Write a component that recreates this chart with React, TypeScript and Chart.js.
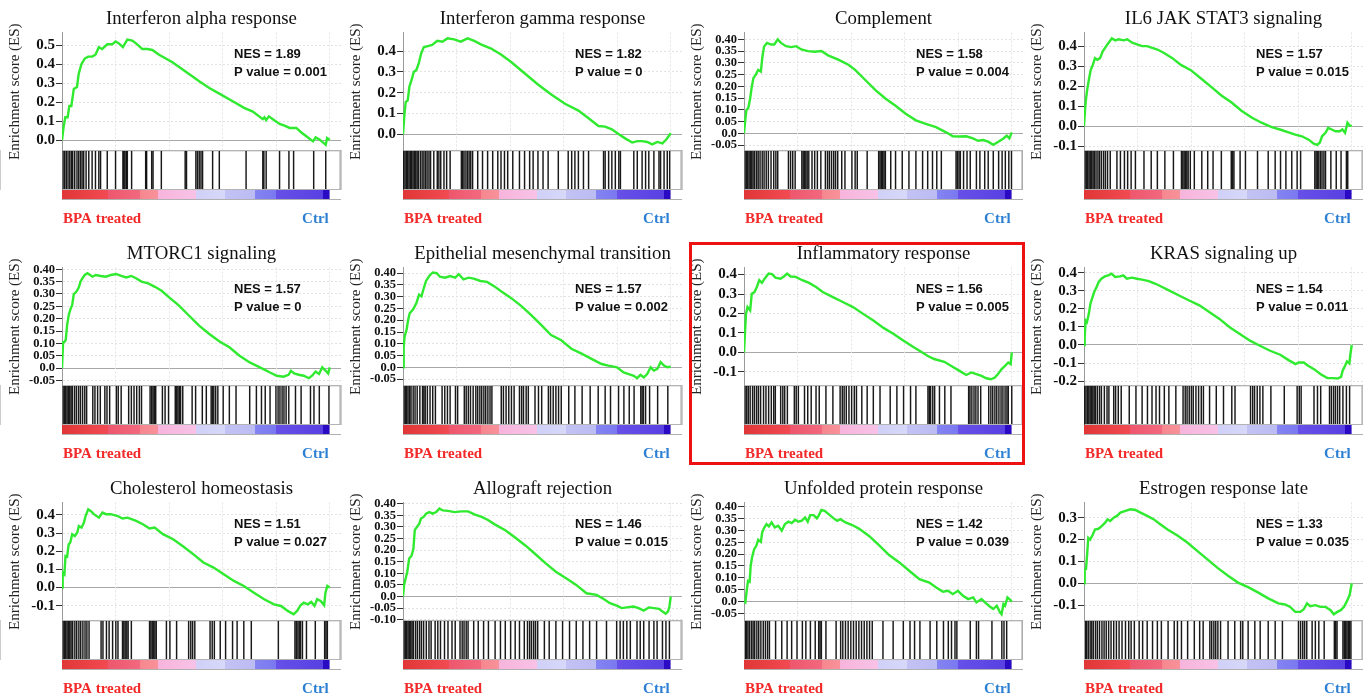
import React, { useEffect, useRef } from 'react';
import { Chart, registerables } from 'chart.js';

Chart.register(...registerables);

// ---------------- data ----------------
const TITLES = [
  'Interferon alpha response', 'Interferon gamma response', 'Complement', 'IL6 JAK STAT3 signaling',
  'MTORC1 signaling', 'Epithelial mesenchymal transition', 'Inflammatory response', 'KRAS signaling up',
  'Cholesterol homeostasis', 'Allograft rejection', 'Unfolded protein response', 'Estrogen response late',
];
const NES_VALUES = ['1.89', '1.82', '1.58', '1.57', '1.57', '1.57', '1.56', '1.54', '1.51', '1.46', '1.42', '1.33'];
const P_VALUES = ['0.001', '0', '0.004', '0.015', '0', '0.002', '0.005', '0.011', '0.027', '0.015', '0.039', '0.035'];

const TICKS_05 = ['0.5', '0.4', '0.3', '0.2', '0.1', '0.0'];
const TICKS_04 = ['0.4', '0.3', '0.2', '0.1', '0.0'];
const TICKS_04_N1 = ['0.4', '0.3', '0.2', '0.1', '0.0', '-0.1'];
const TICKS_04_N2 = ['0.4', '0.3', '0.2', '0.1', '0.0', '-0.1', '-0.2'];
const TICKS_03_N1 = ['0.3', '0.2', '0.1', '0.0', '-0.1'];
const TICKS_040 = ['0.40', '0.35', '0.30', '0.25', '0.20', '0.15', '0.10', '0.05', '0.0', '-0.05'];
const TICKS_040_N10 = ['0.40', '0.35', '0.30', '0.25', '0.20', '0.15', '0.10', '0.05', '0.0', '-0.05', '-0.10'];

const Y_TICK_LABELS = [
  TICKS_05, TICKS_04, TICKS_040, TICKS_04_N1,
  TICKS_040, TICKS_040, TICKS_04_N1, TICKS_04_N2,
  TICKS_04_N1, TICKS_040_N10, TICKS_040, TICKS_03_N1,
];
const Y_RANGES = [
  [-0.057, 0.567], [-0.08, 0.49], [-0.075, 0.429], [-0.124, 0.468],
  [-0.072, 0.407], [-0.079, 0.424], [-0.172, 0.436], [-0.227, 0.43],
  [-0.183, 0.468], [-0.105, 0.405], [-0.082, 0.418], [-0.172, 0.369],
];

// running enrichment score: [rank %, ES]
const ES_1 = [[0,0],[0.6,0.07],[1.25,0.12],[2.1,0.12],[2.75,0.18],[3.5,0.18],[4.4,0.27],[5.6,0.28],[6.25,0.35],[7.25,0.40],[8.5,0.43],[9.75,0.44],[11.25,0.44],[12.5,0.45],[13.75,0.49],[15,0.48],[16.9,0.505],[18.75,0.505],[20,0.52],[21.25,0.51],[22.75,0.49],[24.4,0.53],[26.25,0.525],[28.1,0.505],[30,0.48],[31.9,0.48],[33.75,0.475],[36.25,0.45],[41.25,0.41],[46.25,0.36],[51.25,0.31],[55,0.275],[58.75,0.245],[63.75,0.205],[68,0.17],[71.25,0.15],[75,0.11],[75.6,0.12],[76.25,0.105],[77.25,0.125],[78.75,0.11],[81.25,0.085],[83.1,0.076],[85,0.064],[87.5,0.064],[89.4,0.04],[91.25,0.02],[93.75,-0.007],[94.75,0.014],[96.25,0.002],[98.5,-0.025],[99,0.01],[100,0]];
const ES_2 = [[0,0],[0.5,0.09],[1,0.155],[1.76,0.163],[2.4,0.23],[3.4,0.27],[4,0.3],[5,0.31],[5.9,0.343],[6.8,0.39],[7.8,0.42],[9.3,0.425],[10.9,0.43],[12.8,0.45],[14.7,0.446],[16.6,0.462],[19.1,0.457],[21.6,0.446],[24.1,0.462],[26.6,0.45],[29.1,0.433],[32.9,0.413],[36.6,0.384],[40.4,0.348],[45.4,0.294],[50.4,0.24],[55.5,0.19],[60.5,0.147],[65.5,0.114],[69.3,0.077],[73,0.04],[75.5,0.037],[78,0.024],[80.6,0],[83.1,-0.021],[85.6,-0.04],[87.5,-0.033],[89.3,-0.033],[91.2,-0.037],[93.1,-0.049],[95,-0.037],[96.9,-0.044],[98.4,-0.024],[100,0.005]];
const ES_3 = [[0,0],[0.38,0.047],[0.88,0.098],[1.6,0.108],[2.3,0.148],[2.8,0.19],[3.5,0.235],[4.4,0.25],[5.3,0.27],[6.3,0.263],[6.9,0.328],[7.5,0.37],[8.6,0.385],[10.1,0.378],[11.3,0.378],[12.6,0.4],[13.8,0.385],[15.7,0.371],[17.6,0.367],[19.5,0.371],[21.4,0.357],[23.9,0.35],[26.4,0.347],[28.9,0.35],[31.4,0.332],[35.2,0.314],[39,0.292],[41.5,0.27],[45.3,0.227],[49.1,0.184],[52.8,0.148],[56.6,0.117],[60.4,0.083],[64.2,0.055],[67.9,0.04],[71.7,0.026],[75.5,0.004],[78,-0.013],[80.5,-0.014],[83,-0.013],[85.5,-0.022],[87.4,-0.032],[89.3,-0.029],[91.2,-0.036],[93.1,-0.049],[95,-0.036],[96.9,-0.022],[98.1,-0.01],[99.1,-0.022],[100,0.004]];
const ES_4 = [[0,0],[0.4,0.085],[0.75,0.136],[1.25,0.187],[1.9,0.238],[2.5,0.28],[3.3,0.306],[4.1,0.34],[5,0.332],[6,0.34],[7,0.374],[8.3,0.4],[9.2,0.417],[10.4,0.439],[11.7,0.429],[12.9,0.434],[14.8,0.429],[16.1,0.434],[18,0.417],[19.8,0.409],[21.7,0.4],[23.6,0.4],[25.5,0.391],[27.4,0.383],[29.9,0.366],[33,0.34],[36.2,0.306],[39.9,0.28],[43.7,0.238],[47.5,0.196],[51.3,0.153],[55,0.119],[58.8,0.077],[62.6,0.043],[66.3,0.017],[70.1,-0.005],[73.2,-0.017],[76.4,-0.031],[78.9,-0.043],[81.4,-0.051],[83.9,-0.068],[85.8,-0.088],[87.1,-0.094],[88.1,-0.082],[88.9,-0.051],[90.2,-0.034],[91.2,-0.009],[92.5,-0.017],[94,-0.026],[95.5,-0.026],[96.5,-0.017],[97.5,-0.034],[98.4,0.017],[99.2,0.003],[100,0]];
const ES_5 = [[0,0],[0.4,0.105],[0.9,0.105],[1.4,0.114],[1.9,0.173],[2.5,0.214],[3.2,0.24],[3.8,0.255],[4.4,0.3],[5.4,0.31],[6.3,0.327],[6.9,0.35],[7.6,0.363],[8.5,0.377],[9.5,0.384],[10.5,0.377],[11.4,0.37],[12.6,0.377],[14.5,0.373],[16.4,0.37],[18.3,0.377],[20.2,0.381],[22.1,0.373],[24,0.367],[25.9,0.373],[27.8,0.363],[29.7,0.35],[32.2,0.343],[34.7,0.329],[37.2,0.313],[39.8,0.288],[43.6,0.254],[47.3,0.214],[51.1,0.173],[54.9,0.139],[58.7,0.109],[62.5,0.084],[66.3,0.05],[70.1,0.023],[73.9,0.003],[77.7,-0.018],[80.2,-0.031],[82.7,-0.035],[84.6,-0.027],[85.5,-0.011],[86.7,-0.022],[88.4,-0.027],[90.3,-0.031],[92.2,-0.041],[93.4,-0.031],[94.7,-0.014],[96,-0.024],[97.2,0.003],[98.5,-0.011],[99.4,-0.022],[100,0.003]];
const ES_6 = [[0,0],[0.25,0.086],[0.6,0.13],[1.3,0.158],[1.9,0.2],[2.5,0.23],[3.8,0.247],[5,0.273],[6,0.309],[6.9,0.302],[7.8,0.338],[8.6,0.367],[9.8,0.388],[11.1,0.403],[12.6,0.4],[13.8,0.385],[15.7,0.381],[17.6,0.388],[19.5,0.381],[20.8,0.396],[22.6,0.374],[24.5,0.381],[26.4,0.377],[28.9,0.367],[31.4,0.363],[34,0.345],[36.5,0.324],[40.3,0.295],[44,0.262],[47.8,0.223],[51.6,0.18],[55.3,0.137],[59.1,0.115],[62.9,0.079],[66.7,0.058],[70.4,0.036],[74.2,0.014],[76.7,0.007],[79.9,0],[82.4,-0.022],[84.3,-0.029],[86.2,-0.036],[87.4,-0.046],[88.7,-0.032],[89.9,-0.043],[91.2,-0.029],[92.5,0],[93.7,-0.014],[95,-0.007],[96.2,0.022],[97.5,0.007],[98.7,0],[100,0.003]];
const ES_7 = [[0,0],[0.4,0.112],[0.75,0.198],[1.3,0.233],[2.3,0.216],[2.9,0.302],[3.9,0.31],[4.8,0.336],[5.7,0.371],[6.7,0.357],[7.7,0.379],[9.2,0.405],[10.5,0.402],[11.7,0.384],[13.6,0.379],[14.9,0.39],[16.1,0.405],[17.4,0.39],[19.3,0.388],[21.8,0.371],[24.3,0.357],[26.9,0.336],[29.4,0.31],[33.2,0.284],[36.9,0.259],[40.7,0.233],[44.5,0.198],[48.3,0.164],[52.1,0.126],[55.9,0.095],[59.6,0.06],[63.4,0.026],[66,0.005],[68.5,-0.017],[71,-0.034],[74.8,-0.048],[77.9,-0.074],[80.5,-0.095],[83,-0.116],[84.9,-0.103],[86.8,-0.112],[88.7,-0.121],[90.5,-0.133],[92.2,-0.138],[93.7,-0.129],[95,-0.109],[96.2,-0.086],[97.5,-0.069],[98.7,-0.052],[99.6,-0.06],[100,0]];
const ES_8 = [[0,0],[0.25,0.043],[0.6,0.136],[1.1,0.127],[1.8,0.173],[2.4,0.229],[3,0.257],[3.8,0.294],[4.7,0.322],[5.5,0.35],[6.5,0.368],[7.8,0.381],[9.1,0.387],[10.3,0.396],[11.6,0.378],[13.5,0.381],[14.7,0.387],[16,0.368],[17.9,0.374],[19.8,0.368],[21.7,0.363],[24.2,0.355],[26.7,0.34],[29.2,0.322],[31.7,0.303],[35.5,0.275],[39.3,0.247],[43.1,0.22],[46.9,0.182],[50.6,0.145],[54.4,0.099],[58.2,0.061],[62,0.024],[65.7,-0.004],[69.5,-0.032],[73.3,-0.054],[76.4,-0.084],[79,-0.106],[80.2,-0.097],[82.1,-0.097],[83.4,-0.112],[85.9,-0.134],[88.4,-0.162],[90.9,-0.184],[92.8,-0.184],[94.7,-0.186],[96,-0.177],[96.6,-0.143],[97.5,-0.115],[98.2,-0.091],[99.1,-0.102],[99.5,-0.05],[100,0]];
const ES_9 = [[0,0],[0.25,0.083],[0.9,0.073],[1.3,0.174],[1.9,0.17],[2.5,0.238],[3.1,0.248],[3.8,0.294],[4.8,0.284],[5.7,0.303],[6.3,0.339],[7.3,0.33],[8.2,0.358],[8.8,0.394],[9.8,0.431],[10.7,0.422],[11.9,0.404],[13.8,0.385],[15.1,0.413],[16.4,0.404],[18.2,0.404],[20.8,0.394],[22.6,0.38],[24.5,0.385],[27.7,0.367],[30.2,0.349],[32.7,0.325],[34.6,0.33],[37.7,0.294],[41.5,0.266],[45.3,0.226],[49.1,0.183],[52.8,0.138],[56.6,0.11],[60.4,0.073],[64.2,0.037],[67.9,0.009],[71.7,-0.028],[75.5,-0.064],[79.2,-0.092],[81.8,-0.101],[84.3,-0.128],[86.5,-0.147],[87.8,-0.128],[89.1,-0.097],[90.3,-0.083],[91.8,-0.092],[93.1,-0.079],[94.3,-0.101],[95.3,-0.064],[96.6,-0.073],[97.9,-0.097],[98.4,-0.028],[99.1,0.009],[100,0]];
const ES_10 = [[0,0],[0.4,0.05],[1,0.079],[1.6,0.107],[2.3,0.164],[3.2,0.176],[3.9,0.207],[4.4,0.286],[5.2,0.3],[6.1,0.314],[6.7,0.336],[7.7,0.343],[8.6,0.357],[9.8,0.364],[11.1,0.357],[12.4,0.364],[13.6,0.379],[14.9,0.371],[16.8,0.369],[19.3,0.364],[21.8,0.367],[24.3,0.367],[26.9,0.353],[29.4,0.343],[31.9,0.329],[34.4,0.31],[38.2,0.286],[42,0.253],[45.8,0.219],[49.6,0.181],[53.3,0.143],[57.1,0.107],[60.9,0.079],[64.7,0.05],[68.5,0.014],[72.3,0.007],[74.8,-0.01],[77.3,-0.029],[79.8,-0.039],[81.7,-0.05],[83.6,-0.047],[86.1,-0.043],[88,-0.05],[89.9,-0.061],[91.8,-0.047],[93.7,-0.05],[95.6,-0.053],[96.8,-0.064],[98.1,-0.074],[99,-0.064],[99.5,-0.043],[100,0]];
const ES_11 = [[0,0],[0.5,-0.004],[1,0.045],[1.5,0.087],[2.1,0.083],[2.5,0.151],[3,0.186],[3.8,0.221],[4.6,0.235],[5.3,0.261],[6.3,0.252],[6.8,0.292],[7.5,0.31],[8.4,0.327],[9.3,0.317],[10.3,0.334],[11.5,0.313],[12.8,0.32],[14.1,0.299],[15.3,0.327],[16.6,0.337],[17.8,0.331],[19.1,0.345],[20.3,0.337],[21.6,0.341],[22.8,0.355],[23.8,0.337],[24.7,0.365],[26,0.365],[27.2,0.351],[27.9,0.363],[28.9,0.387],[30.1,0.383],[31.6,0.369],[33.5,0.351],[34.8,0.341],[36,0.348],[37.9,0.334],[40.4,0.323],[42.9,0.308],[46.7,0.277],[50.4,0.238],[54.2,0.196],[58,0.165],[61.7,0.13],[65.5,0.094],[69.2,0.08],[71.8,0.059],[74.3,0.041],[76.2,0.045],[78,0.031],[79.9,0.045],[81.8,0.024],[83.7,0.01],[85.6,0.017],[86.8,-0.004],[88.7,0.01],[90,-0.004],[91.8,-0.021],[93.1,-0.032],[94.4,-0.018],[95.6,-0.046],[96.2,-0.054],[96.9,-0.011],[97.5,-0.018],[98.4,0.017],[99.4,0.007],[100,-0.001]];
const ES_12 = [[0,0],[0.25,0.062],[0.75,0.065],[1.25,0.146],[1.6,0.208],[2.3,0.2],[3.3,0.223],[4.1,0.246],[5.4,0.249],[6.7,0.262],[7.9,0.277],[8.8,0.292],[9.8,0.285],[11.1,0.3],[12.3,0.308],[13.6,0.323],[15.5,0.331],[17.3,0.338],[19.2,0.335],[21.1,0.323],[23.6,0.308],[26.1,0.292],[28.6,0.269],[31.2,0.246],[34.9,0.218],[38.7,0.185],[42.5,0.146],[46.2,0.108],[50,0.069],[53.8,0.034],[57.5,0.003],[61.3,-0.018],[65.1,-0.043],[68.8,-0.069],[72.6,-0.092],[75.1,-0.097],[77,-0.108],[78.9,-0.131],[80.8,-0.131],[82,-0.12],[83.3,-0.092],[84.5,-0.105],[86.4,-0.1],[88.3,-0.108],[90.2,-0.108],[92.1,-0.123],[93.3,-0.142],[94.6,-0.131],[95.9,-0.123],[97.1,-0.108],[98.4,-0.077],[99.2,-0.054],[100,0]];

// gene-set hit positions (rank %)
const HITS_1 = [0.4,1,1.6,2.25,2.9,3.5,4,4.75,5.6,6.25,6.9,7.5,8.1,9,10,11.25,12.5,13.75,14.4,16.9,20,22.75,23.1,23.5,24,24.4,26,31.25,31.6,33.5,34,37.1,46,46.5,50,50.6,51.25,51.9,52.5,56.25,58.75,68.75,75,75.4,76.25,81.25,84.75,86.5,94,98.5];
const HITS_2 = [0.25,0.75,1.25,1.76,2.26,2.76,3.26,3.76,4.27,4.77,5.27,5.77,6.5,7.15,7.8,8.4,9,9.7,10.3,11.5,12.8,13.4,14.1,15.3,16.3,17.6,21.8,22.3,22.8,23.5,24.1,24.7,25.3,26,27.9,29.7,31.6,33.5,35.4,36.6,37.9,39.1,41,43.5,45.4,47.3,48.6,50.4,52.3,54.2,58,61.7,63,64.2,65.5,67.4,69.3,74.9,75.5,76.8,78,79.3,80.6,81.2,86.2,87.5,89.3,90.6,91.8,93.7,95.6,96.2,97.5,98.7,99.6];
const HITS_3 = [0.4,0.9,1.4,1.9,2.4,2.9,3.4,4,4.7,5.3,6,6.8,7.5,8.3,9.1,10.1,11.1,11.9,12.6,16.6,17.4,18.2,19.1,21.6,22.1,22.6,23.1,23.6,24.2,25.4,26.4,27.4,28.7,30.4,31.2,31.9,32.7,33.5,34.2,35,36.5,37.7,40.3,41.5,42.3,46,50.3,50.8,51.3,51.8,52.3,52.8,54.8,56.6,59.1,61.6,64.2,66.7,68.6,70.4,72,73.7,79.2,79.7,80.3,80.8,82,83.3,84.5,86.8,88.1,89.9,91.2,93.1,95.1,96.4,97.6,98.9,99.9];
const HITS_4 = [0.4,0.9,1.4,1.9,2.4,2.9,3.4,3.9,4.5,5.2,5.8,6.5,7.3,8,8.8,9.8,12.3,13.6,15.1,16.3,17.6,19.2,22.4,25.1,27.4,30.2,33.4,36.4,36.9,37.4,37.9,38.4,38.9,39.7,41.2,44,46.2,48.2,51.3,55,55.5,56,58.3,60.3,64.8,68.8,71.4,73.4,75.4,77.6,79.6,80.9,86.2,86.7,87.2,87.7,88.3,88.9,89.6,90.2,92.2,94.2,96,98,98.5];
const HITS_5 = [0.4,0.9,1.4,1.9,2.4,2.9,3.4,3.9,4.7,5.4,6.2,6.9,7.7,8.5,9.2,11.5,12.3,13.3,14.3,16,16.8,17.8,20.3,21,22.1,24.9,25.9,26.9,27.9,28.9,29.7,32.9,33.5,34,34.5,35,37.5,38.5,39.8,42.3,42.8,43.3,43.8,44.3,45.1,48.6,49.9,52.4,53.9,55.7,56.2,56.7,57.4,58.2,60.2,62.5,65,70.1,72.6,74.5,75.9,77.7,79.9,80.7,81.4,82.2,82.9,83.7,84.7,87.2,89.3,92.8,94.1,96.1,99.7];
const HITS_6 = [0.4,0.9,1.4,1.9,2.5,3,3.8,4.5,5.3,6.3,7.3,7.8,8.3,9.1,10.1,11.1,12.1,14.6,15.6,16.6,17.6,19.6,20.4,22.9,23.6,24.4,25.2,26.2,27.2,27.9,28.7,29.4,30.2,30.9,31.7,32.5,33.2,36.7,37.5,38.5,39.5,40.5,41.5,43.5,44.3,45,46,46.8,49.3,50.6,51.8,54.3,55.1,56.1,57.1,58.1,59.1,61.9,64.2,66.9,69.9,72.9,75.5,77.5,80.5,82.5,84.5,86.3,88.8,89.3,89.8,90.6,92.1,95.1,98.9];
const HITS_7 = [0.4,1,1.6,2.3,3.2,3.9,4.7,5.4,6.2,7.3,8.2,9.2,10.2,11.1,11.7,13.7,14.5,15.2,16.2,18.8,19.5,20.3,22.6,23.8,25.1,26.9,28.1,30.6,33.2,35.9,36.7,37.4,38.2,39.2,40.2,41.2,42,44,46,48.3,50.8,54.6,57.1,59.6,62.2,64.2,68.7,69.2,69.7,70.5,71.2,73,75,77.3,83.9,84.4,85.1,85.9,86.6,87.4,88.4,91.4,92.2,92.9,93.7,94.4,95.2,96,96.7,97.5,98.2,98.7,100];
const HITS_8 = [0.25,0.75,1.3,1.8,2.3,2.8,3.3,3.8,4.3,5,5.8,6.5,7.6,8.6,9.3,11.1,11.8,12.8,13.9,16.9,19.4,21.7,23.7,25.4,26.9,28.2,30,31.7,34.3,37,37.8,38.5,39.3,40.1,40.8,41.8,42.8,43.8,44.6,46.9,49.4,52.1,55.2,56.4,62.2,63,63.7,64.7,65.7,66.8,69.8,74.8,79.6,80.4,81.1,85.9,87.2,88.4,91.7,92.4,93.2,93.9,94.7,95.5,96.7,98,99.2];
const HITS_9 = [0.4,0.9,1.4,1.9,2.4,2.9,3.4,4,4.8,5.5,6.3,7,7.8,8.6,9.3,10.1,14.6,15.3,16.6,17.6,18.9,20.1,20.9,22.6,23.1,23.6,24.2,24.7,25.9,32.7,33.2,33.7,34.2,34.7,35.2,39,40.3,42.8,47.3,48.1,48.8,49.6,55.3,56.1,56.9,59.1,61.1,63.7,65.4,67.9,70.7,80.8,87,87.5,88.1,88.6,89.1,89.8,91.3,94.6,98.1,98.6,99.1];
const HITS_10 = [0.4,0.9,1.4,1.9,2.4,2.9,3.4,3.9,4.7,5.4,6.2,6.9,7.7,8.7,9.7,10.5,12,13,14,15.5,16.8,18.3,19.5,21.3,22.1,22.8,23.6,24.3,26.4,28.1,30.1,31.9,34.4,36.4,38.2,40.2,41.9,43.5,45.3,46.5,47.3,48,48.8,49.5,50.3,52.8,54.6,57.1,59.6,62.2,64.7,67.2,69.7,72.3,76,79.8,81.1,82.3,83.6,84.9,87.4,88.6,89.9,91.9,93.7,94.9,96.9,98.2,99.5];
const HITS_11 = [0.5,1,1.5,2.1,2.8,3.4,4,4.8,5.5,6.3,7.2,8,8.8,9.5,11.8,14.1,16.1,17.8,19.8,21.8,23.1,24.8,26.6,27.9,28.4,28.9,30.6,34.4,36.1,36.9,37.9,38.9,39.9,40.9,41.9,42.9,43.9,44.9,45.9,46.9,47.9,51.9,55.7,59.5,62,63.7,65.7,69.5,72,74.5,76.3,77.5,78.8,79.5,84.5,86.8,87.6,92.6,96.3,97.1,98.1];
const HITS_12 = [0.5,1,1.6,2.3,2.9,3.5,4.3,5,5.8,6.7,7.5,8.3,9.2,10.1,11.1,12.1,13.1,14.2,15.5,16.7,17.6,18.8,20.6,21.9,23.6,25.6,27.4,28.9,31.4,33.7,34.9,36.4,38.7,41.2,43.2,44.5,47,47.7,48.5,49.2,50,51,53.8,56.3,58.5,59.3,61.3,63.8,65.8,68.8,71.4,74.1,80.1,80.9,81.7,82.4,83.2,85.2,86.4,87.7,89.7,93.5,94,94.5,96.7,97.2,97.7,98.2,98.7,99.2,99.7];

const ES_CURVES = [ES_1, ES_2, ES_3, ES_4, ES_5, ES_6, ES_7, ES_8, ES_9, ES_10, ES_11, ES_12];
const HIT_SETS = [HITS_1, HITS_2, HITS_3, HITS_4, HITS_5, HITS_6, HITS_7, HITS_8, HITS_9, HITS_10, HITS_11, HITS_12];
const X_GRID = [20, 40, 60, 80, 100];

// ---------------- styles / layout ----------------
const X_MAX = 104.2;
const X_FRAME = 103.9;
const AXIS_W = 62;
const CANVAS_W = 341;
const CANVAS_H = 235;
const COL_LEFT = [0, 341, 682, 1022];
const ROW_TOP = [0, 235, 470];
const SERIF = '"Liberation Serif", "Times New Roman", Times, serif';
const SANS = '"Liberation Sans", Arial, sans-serif';
const GREEN = '#2fea2f';
const COLORBAR_STOPS: [number, string][] = [
  [0, '#e03636'], [0.17, '#f24a52'], [0.17, '#ee566c'], [0.29, '#f2687e'],
  [0.29, '#f6868e'], [0.36, '#f8929a'], [0.36, '#f7b4dc'], [0.5, '#f8c2e6'],
  [0.5, '#d0d0f8'], [0.61, '#d8d8fa'], [0.61, '#c2c2f4'], [0.72, '#bcbcf4'],
  [0.72, '#8484f2'], [0.8, '#7a78f0'], [0.8, '#6650e8'], [0.975, '#5840e2'],
  [0.975, '#2a0ac2'], [1, '#2a0ac2'],
];

const gseaTextPlugin = {
  id: 'gseaText',
  afterDraw(chart: any, _args: any, opts: any) {
    const { ctx, chartArea, scales } = chart;
    if (!chartArea) return;
    ctx.save();
    ctx.textBaseline = 'alphabetic';
    ctx.textAlign = 'left';
    ctx.fillStyle = '#111';
    ctx.font = `bold 13px ${SANS}`;
    ctx.fillText('NES = ' + opts.nes, chartArea.left + 172, chartArea.top + 25);
    ctx.fillText('P value = ' + opts.p, chartArea.left + 172, chartArea.top + 43);
    ctx.font = `bold 15px ${SERIF}`;
    ctx.fillStyle = '#f22a2a';
    ctx.fillText('BPA treated', chartArea.left + 1, chartArea.bottom + 24);
    ctx.textAlign = 'right';
    ctx.fillStyle = '#2c7fd2';
    ctx.fillText('Ctrl', scales.x.getPixelForValue(100) - 1, chartArea.bottom + 24);
    ctx.restore();
  },
};

function buildConfig(i: number): any {
  const labels = Y_TICK_LABELS[i];
  const twoDec = labels.some((l) => /\.\d\d/.test(l));
  const [ymin, ymax] = Y_RANGES[i];
  const labelFor = (v: number) => {
    const hit = labels.find((l) => Math.abs(parseFloat(l) - v) < 1e-9);
    return hit ?? '';
  };
  const gradient = (c: any) => {
    const chart = c.chart;
    const { ctx, chartArea, scales } = chart;
    if (!chartArea) return '#f0a0c0';
    const x0 = scales.x.getPixelForValue(0);
    const x1 = scales.x.getPixelForValue(100);
    const g = ctx.createLinearGradient(x0, 0, x1, 0);
    COLORBAR_STOPS.forEach(([p, col]) => g.addColorStop(p, col));
    return g;
  };
  return {
    type: 'line',
    data: {
      datasets: [
        {
          type: 'line', label: 'ES', data: ES_CURVES[i].map(([x, y]) => ({ x, y })),
          xAxisID: 'x', yAxisID: 'y', borderColor: GREEN, borderWidth: 2.4,
          pointRadius: 0, tension: 0, fill: false, order: 1,
        },
        {
          type: 'bar', label: 'hits', data: HIT_SETS[i].map((h) => ({ x: h, y: [0, 1] })),
          xAxisID: 'x', yAxisID: 'yh', backgroundColor: 'rgba(0,0,0,0.9)',
          borderWidth: 0, barThickness: 0.8, grouped: false, order: 3,
        },
        {
          type: 'line', label: 'rank', data: [{ x: 0, y: 1 }, { x: 100, y: 1 }],
          xAxisID: 'x', yAxisID: 'yc', fill: 'origin', backgroundColor: gradient,
          borderWidth: 0, pointRadius: 0, order: 5,
        },
        {
          type: 'line', label: 'frame',
          data: [{ x: 0, y: 1 }, { x: X_FRAME, y: 1 }, { x: X_FRAME, y: 0 }],
          xAxisID: 'x', yAxisID: 'yh', fill: 'origin', backgroundColor: '#ffffff',
          borderColor: '#b8b8b8', borderWidth: 1, pointRadius: 0, order: 10,
        },
      ],
    },
    options: {
      responsive: false,
      maintainAspectRatio: false,
      animation: false,
      events: [],
      layout: { padding: { left: 0, right: 0, top: 0, bottom: 36 } },
      plugins: {
        legend: { display: false },
        tooltip: { enabled: false },
        title: {
          display: true, text: TITLES[i], fullSize: false, color: '#111',
          font: { family: SERIF, size: 18.8, weight: 'normal' },
          padding: { top: 8, bottom: 2 },
        },
        gseaText: { nes: NES_VALUES[i], p: P_VALUES[i] },
      },
      scales: {
        y: {
          type: 'linear', position: 'left', stack: 'gsea', stackWeight: 118, weight: 3,
          min: ymin, max: ymax,
          afterBuildTicks: (s: any) => { s.ticks = labels.map((l) => ({ value: parseFloat(l) })); },
          afterFit: (s: any) => { s.width = AXIS_W; },
          ticks: {
            autoSkip: false, padding: 1, color: '#111',
            font: { family: SERIF, size: twoDec ? 12.5 : 15, weight: 'bold', lineHeight: 1 },
            callback: (v: number) => labelFor(v),
          },
          grid: {
            color: (c: any) => (c.tick && Math.abs(c.tick.value) < 1e-9 ? '#a8a8a8' : '#e2e2e2'),
            lineWidth: 1, tickLength: 6, tickColor: '#333', tickWidth: 1, tickBorderDash: [],
          },
          border: {
            display: true, color: '#9a9a9a',
            dash: (c: any) => (c.tick && Math.abs(c.tick.value) < 1e-9 ? [] : [2, 2]),
          },
          title: {
            display: true, text: 'Enrichment score (ES)', color: '#222',
            font: { family: SERIF, size: 15, weight: 'normal' },
            padding: { top: 6, bottom: 0 },
          },
        },
        yh: {
          type: 'linear', position: 'left', stack: 'gsea', stackWeight: 39, weight: 2,
          min: 0, max: 1, offset: false,
          afterBuildTicks: (s: any) => { s.ticks = [{ value: 0 }, { value: 1 }]; },
          afterFit: (s: any) => { s.width = AXIS_W; },
          ticks: { display: false },
          grid: { color: '#b4b4b4', drawTicks: false, z: 1 },
          border: { display: true, color: '#9a9a9a' },
        },
        yc: {
          type: 'linear', position: 'left', stack: 'gsea', stackWeight: 9, weight: 1,
          min: 0, max: 1, offset: false,
          afterFit: (s: any) => { s.width = AXIS_W; },
          ticks: { display: false },
          grid: { display: false, drawTicks: false },
          border: { display: true, color: '#9a9a9a' },
        },
        x: {
          type: 'linear', position: 'bottom', min: 0, max: X_MAX, offset: false,
          afterBuildTicks: (s: any) => { s.ticks = X_GRID.map((v) => ({ value: v })); },
          afterFit: (s: any) => { s.height = 0; },
          ticks: { display: false },
          grid: { color: '#e4e4e4', drawTicks: false, offset: false },
          border: { display: true, color: '#b0b0b0', dash: [2, 2] },
        },
      },
    },
    plugins: [gseaTextPlugin],
  };
}

function GseaPanel({ index }: { index: number }) {
  const ref = useRef<HTMLCanvasElement | null>(null);
  useEffect(() => {
    const canvas = ref.current;
    if (!canvas) return;
    const chart = new Chart(canvas, buildConfig(index));
    return () => { chart.destroy(); };
  }, [index]);
  return (
    <div style={{ position: 'absolute', left: COL_LEFT[index % 4], top: ROW_TOP[Math.floor(index / 4)], width: CANVAS_W, height: CANVAS_H }}>
      <canvas ref={ref} width={CANVAS_W} height={CANVAS_H} style={{ display: 'block', width: CANVAS_W, height: CANVAS_H }} />
    </div>
  );
}

export default function App() {
  return (
    <div style={{ position: 'fixed', left: 0, top: 0, width: 1367, height: 697, overflow: 'hidden', background: '#ffffff' }}>
      {TITLES.map((_, i) => <GseaPanel key={i} index={i} />)}
      <div style={{ position: 'absolute', left: 689, top: 242, width: 336, height: 223, border: '3px solid #ee1111', boxSizing: 'border-box', pointerEvents: 'none' }} />
    </div>
  );
}
